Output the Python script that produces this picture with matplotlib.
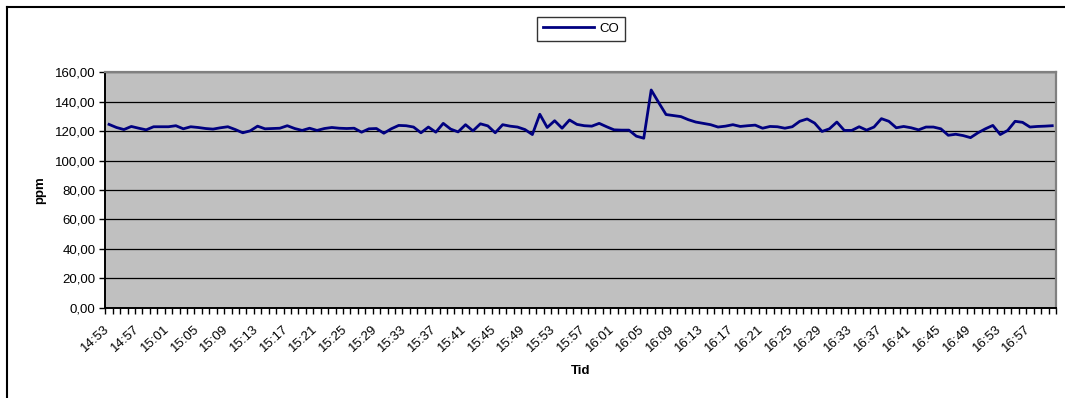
import numpy as np
import pandas as pd
import matplotlib
matplotlib.use("Agg")
import matplotlib.pyplot as plt
from matplotlib.lines import Line2D
from matplotlib.ticker import FuncFormatter, FixedLocator
import matplotlib.transforms as mtransforms

plt.rcParams["font.family"] = ["Liberation Sans", "DejaVu Sans"]

# CO readings, one per minute starting 14:53
co = [
    124.6, 122.5, 121.1, 123.2, 122.0, 120.9, 123.0, 123.0, 123.0, 123.7,
    121.6, 123.0, 122.5, 121.8, 121.4, 122.3, 123.0, 121.1, 118.9, 120.2,
    123.4, 121.6, 121.8, 122.0, 123.7, 121.8, 120.5, 122.0, 120.5, 121.8,
    122.5, 122.0, 121.8, 122.0, 119.3, 121.6, 121.8, 118.6, 121.6, 123.9,
    123.7, 122.8, 118.9, 122.8, 119.3, 125.3, 121.4, 119.5, 124.4, 120.2,
    125.0, 123.6, 118.9, 124.4, 123.4, 122.8, 121.1, 117.7, 131.5, 122.5,
    127.1, 122.0, 127.6, 124.6, 123.7, 123.4, 125.3, 123.0, 120.9, 120.7,
    120.7, 116.6, 115.2, 148.0, 139.5, 131.3, 130.6, 129.9, 127.8, 126.2,
    125.3, 124.4, 122.8, 123.4, 124.4, 123.2, 123.7, 124.1, 122.0, 123.2,
    123.0, 122.0, 123.0, 126.7, 128.3, 125.5, 119.8, 121.6, 126.2, 120.5,
    120.5, 123.0, 120.7, 122.8, 128.5, 126.7, 122.3, 123.2, 122.3, 120.9,
    122.8, 122.8, 121.6, 117.2, 117.9, 117.0, 115.6, 118.9, 121.6, 123.9,
    117.7, 120.5, 126.7, 126.0, 122.8, 123.2, 123.4, 123.7,
]
times = pd.date_range("2000-01-01 14:53", periods=len(co), freq="min")
tid = [t.strftime("%H:%M") for t in times]
label_step = 4
y_ticks = [0, 20, 40, 60, 80, 100, 120, 140, 160]

fs = 9.5

fig = plt.figure(figsize=(10.65, 3.98), dpi=100)
ax = fig.add_axes([0.0989, 0.2269, 0.8926, 0.5914])
ax.set_facecolor("#C0C0C0")

x = np.arange(len(co))
ax.plot(x, co, color="#000080", lw=2.0, label="CO", solid_joinstyle="round")

ax.set_xlim(-0.5, len(co) - 0.5)
ax.set_ylim(0, 160)

# y axis
ax.set_yticks(y_ticks)
ax.yaxis.set_major_formatter(FuncFormatter(lambda v, p: f"{v:.2f}".replace(".", ",")))
ax.tick_params(axis="y", direction="out", length=4, width=1, labelsize=fs, pad=3)
ax.grid(axis="y", color="black", lw=0.9)
ax.set_axisbelow(True)

# x axis: tick marks between categories, labels every 4th category
ax.xaxis.set_minor_locator(FixedLocator(np.arange(-0.5, len(co), 1.0)))
ax.set_xticks(x[::label_step])
ax.set_xticklabels(tid[::label_step])
ax.tick_params(axis="x", which="minor", direction="out", length=4, width=1)
ax.tick_params(axis="x", which="major", length=0, labelsize=fs, pad=11)
offset = mtransforms.ScaledTranslation(-5 / 100, 0, fig.dpi_scale_trans)
for lbl in ax.get_xticklabels():
    lbl.set_rotation(42)
    lbl.set_ha("right")
    lbl.set_va("top")
    lbl.set_rotation_mode("anchor")
    lbl.set_transform(lbl.get_transform() + offset)

for side in ("left", "bottom"):
    ax.spines[side].set_color("black")
    ax.spines[side].set_linewidth(1.4)
for side in ("top", "right"):
    ax.spines[side].set_color("#808080")
    ax.spines[side].set_linewidth(1.6)

ax.set_ylabel("ppm", fontsize=fs, fontweight="bold", labelpad=6)
ax.set_xlabel("Tid", fontsize=fs, fontweight="bold", labelpad=8)

leg = ax.legend(loc="center", bbox_to_anchor=(581 / 1065, 1 - 29 / 398),
                bbox_transform=fig.transFigure, frameon=True, fancybox=False,
                fontsize=fs, handlelength=3.9, handletextpad=0.4,
                borderpad=0.45, borderaxespad=0)
leg.get_frame().set_edgecolor("black")
leg.get_frame().set_linewidth(1.0)

# chart area border (left and top)
fig.add_artist(Line2D([7 / 1065, 7 / 1065], [0, 1 - 7 / 398], color="black", lw=1.5))
fig.add_artist(Line2D([7 / 1065, 1], [1 - 7 / 398, 1 - 7 / 398], color="black", lw=1.5))

fig.savefig("out.png", dpi=100)
